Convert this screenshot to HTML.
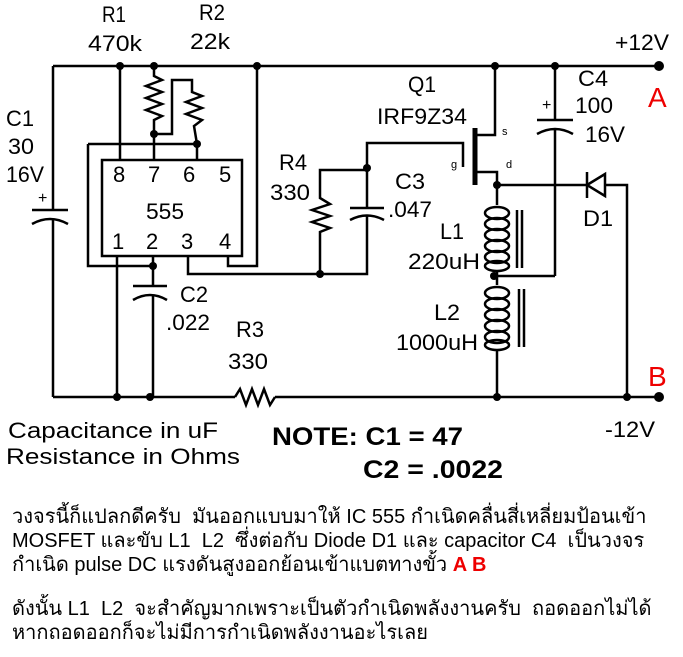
<!DOCTYPE html>
<html><head><meta charset="utf-8"><style>
html,body{margin:0;padding:0;background:#fff;width:683px;height:657px;overflow:hidden}
svg{position:absolute;left:0;top:0}
.t{position:absolute;left:12px;font-family:"Liberation Sans","DejaVu Sans",sans-serif;font-size:20px;color:#000;white-space:nowrap;line-height:24px}
</style></head><body>
<svg width="683" height="657" viewBox="0 0 683 657" font-family="Liberation Sans, Arial, sans-serif">
<g stroke="#000" stroke-width="2.5" fill="none">
<path d="M53 66H659M53 397H235M275 397H659"/>
<path d="M53 66V210M53 220V397M32 210H68M32 224Q50 214 68 224"/>
<path d="M120 66V160"/>
<path d="M154 66V76L162 80L146 86L162 92L146 98L162 104L146 110L162 116L154 120V160"/>
<path d="M154 134H172V80H192V92L202 96L186 102L202 108L186 114L202 120L194 126L197 144V160"/>
<path d="M88 144H197M88 144V266H153"/>
<rect x="102" y="160" width="140" height="96"/>
<path d="M117 256V397M153 256V286M153 296V397M133 286H167M133 300Q150 290 167 300"/>
<path d="M188 256V274H320M228 256V266H257V66"/>
<path d="M320 274V232L330 228L312 222L330 216L312 210L330 204L320 198V170H367M367 168V208M367 216V274H320M350 208H384M350 220Q367 211 384 220"/>
<path d="M367 168V143H463V167"/>
<path d="M475 128V185" stroke-width="5"/>
<path d="M475 135H495V66M475 172H497V185"/>
<path d="M497 185H627V397M587 172V198"/>
<path d="M587 185L605 174V196Z" fill="#fff"/>
<path d="M555 66V120M555 130V276M537 120H573M537 134Q555 124 573 134M494 276H555"/>
<path d="M497 185V205M497 270V285M497 350V397"/>
<path d="M517 210V268M522 210V268M519 289V347M524 289V347"/>
</g>
<g fill="none" stroke="#000" stroke-width="2.5">
<ellipse cx="497" cy="213" rx="12" ry="6"/><ellipse cx="497" cy="224" rx="12" ry="6"/><ellipse cx="497" cy="235" rx="12" ry="6"/><ellipse cx="497" cy="246" rx="12" ry="6"/><ellipse cx="497" cy="257" rx="12" ry="6"/><ellipse cx="497" cy="266" rx="12" ry="5"/>
<ellipse cx="497" cy="293" rx="12" ry="6"/><ellipse cx="497" cy="304" rx="12" ry="6"/><ellipse cx="497" cy="315" rx="12" ry="6"/><ellipse cx="497" cy="326" rx="12" ry="6"/><ellipse cx="497" cy="337" rx="12" ry="6"/><ellipse cx="497" cy="345" rx="12" ry="5"/>
<path d="M235 397L240 389L246 405L252 389L258 405L264 389L270 405L275 397"/>
</g>
<g fill="#000">
<circle cx="120" cy="66" r="4"/><circle cx="154" cy="66" r="4"/><circle cx="257" cy="66" r="4"/><circle cx="495" cy="66" r="4"/><circle cx="555" cy="66" r="4"/><circle cx="659" cy="66" r="5"/>
<circle cx="154" cy="134" r="4"/><circle cx="197" cy="144" r="4"/><circle cx="153" cy="266" r="4"/>
<circle cx="320" cy="274" r="4"/><circle cx="367" cy="168" r="4"/><circle cx="497" cy="185" r="4"/><circle cx="494" cy="276" r="4"/>
<circle cx="117" cy="397" r="4"/><circle cx="150" cy="397" r="4"/><circle cx="497" cy="397" r="4"/><circle cx="627" cy="397" r="4"/><circle cx="659" cy="397" r="5"/>
</g>
<g font-size="22" fill="#000" lengthAdjust="spacingAndGlyphs">
<text x="102" y="22" textLength="24" lengthAdjust="spacingAndGlyphs">R1</text><text x="88" y="51" textLength="54" lengthAdjust="spacingAndGlyphs">470k</text>
<text x="199" y="20" textLength="26" lengthAdjust="spacingAndGlyphs">R2</text><text x="190" y="49" textLength="40" lengthAdjust="spacingAndGlyphs">22k</text>
<text x="6" y="126" textLength="28" lengthAdjust="spacingAndGlyphs">C1</text><text x="8" y="154" textLength="26" lengthAdjust="spacingAndGlyphs">30</text><text x="6" y="182" textLength="38" lengthAdjust="spacingAndGlyphs">16V</text>
<text x="38" y="203" font-size="16">+</text>
<text x="113" y="182">8</text><text x="148" y="182">7</text><text x="183" y="182">6</text><text x="219" y="182">5</text>
<text x="146" y="219" textLength="38" lengthAdjust="spacingAndGlyphs">555</text>
<text x="112" y="249">1</text><text x="146" y="249">2</text><text x="181" y="249">3</text><text x="219" y="249">4</text>
<text x="180" y="302" textLength="28" lengthAdjust="spacingAndGlyphs">C2</text><text x="166" y="330" textLength="44" lengthAdjust="spacingAndGlyphs">.022</text>
<text x="236" y="337" textLength="28" lengthAdjust="spacingAndGlyphs">R3</text><text x="228" y="369" textLength="40" lengthAdjust="spacingAndGlyphs">330</text>
<text x="279" y="170" textLength="28" lengthAdjust="spacingAndGlyphs">R4</text><text x="270" y="200" textLength="40" lengthAdjust="spacingAndGlyphs">330</text>
<text x="395" y="189" textLength="30" lengthAdjust="spacingAndGlyphs">C3</text><text x="388" y="217" textLength="44" lengthAdjust="spacingAndGlyphs">.047</text>
<text x="408" y="92" textLength="28" lengthAdjust="spacingAndGlyphs">Q1</text><text x="377" y="124" textLength="90" lengthAdjust="spacingAndGlyphs">IRF9Z34</text>
<text x="440" y="239" textLength="24" lengthAdjust="spacingAndGlyphs">L1</text><text x="408" y="269" textLength="72" lengthAdjust="spacingAndGlyphs">220uH</text>
<text x="434" y="320" textLength="26" lengthAdjust="spacingAndGlyphs">L2</text><text x="396" y="350" textLength="82" lengthAdjust="spacingAndGlyphs">1000uH</text>
<text x="578" y="86" textLength="30" lengthAdjust="spacingAndGlyphs">C4</text><text x="575" y="113" textLength="38" lengthAdjust="spacingAndGlyphs">100</text><text x="585" y="142" textLength="40" lengthAdjust="spacingAndGlyphs">16V</text>
<text x="542" y="110" font-size="16">+</text>
<text x="583" y="226" textLength="30" lengthAdjust="spacingAndGlyphs">D1</text>
<text x="615" y="50" textLength="54" lengthAdjust="spacingAndGlyphs">+12V</text>
<text x="605" y="437" textLength="50" lengthAdjust="spacingAndGlyphs">-12V</text>
<text x="451" y="168" font-size="11">g</text><text x="502" y="135" font-size="11">s</text><text x="506" y="168" font-size="11">d</text>
<text x="8" y="438" font-size="22" textLength="210" lengthAdjust="spacingAndGlyphs">Capacitance in  uF</text>
<text x="6" y="464" font-size="22" textLength="234" lengthAdjust="spacingAndGlyphs">Resistance in Ohms</text>
<text x="272" y="445" font-size="25" font-weight="bold" textLength="191" lengthAdjust="spacingAndGlyphs">NOTE: C1 = 47</text>
<text x="363" y="478" font-size="25" font-weight="bold" textLength="140" lengthAdjust="spacingAndGlyphs">C2 = .0022</text>
</g>
<text x="648" y="107" font-size="28" fill="#e00">A</text>
<text x="648" y="386" font-size="28" fill="#e00">B</text>
</svg>
<div class="t" style="top:505px">วงจรนี้ก็แปลกดีครับ&nbsp; มันออกแบบมาให้ IC 555 กำเนิดคลื่นสี่เหลี่ยมป้อนเข้า</div>
<div class="t" style="top:529px">MOSFET และขับ L1&nbsp; L2&nbsp; ซึ่งต่อกับ Diode D1 และ capacitor C4&nbsp; เป็นวงจร</div>
<div class="t" style="top:553px">กำเนิด pulse DC แรงดันสูงออกย้อนเข้าแบตทางขั้ว <b style="color:#e00">A B</b></div>
<div class="t" style="top:597px">ดังนั้น L1&nbsp; L2&nbsp; จะสำคัญมากเพราะเป็นตัวกำเนิดพลังงานครับ&nbsp; ถอดออกไม่ได้</div>
<div class="t" style="top:621px">หากถอดออกก็จะไม่มีการกำเนิดพลังงานอะไรเลย</div>
</body></html>
